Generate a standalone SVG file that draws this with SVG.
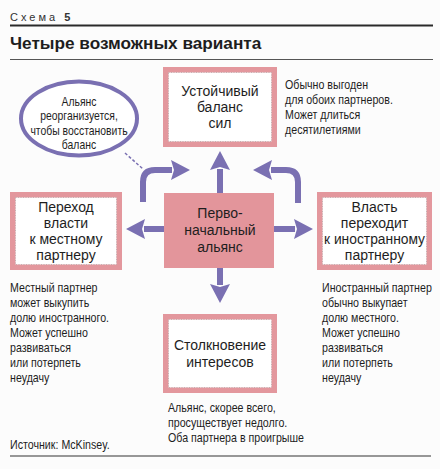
<svg xmlns="http://www.w3.org/2000/svg" width="440" height="469" viewBox="0 0 440 469">
<style>
.bg{fill:#fcfcfc}
.frame{fill:#e3979d}
.inner{fill:#ffffff;stroke:#b9a9ab;stroke-width:0.8;stroke-dasharray:1 1.5}
.center{fill:#e3959b}
.bt{font-family:"Liberation Sans",Arial,sans-serif;font-size:14px;fill:#1e1e1e;text-anchor:middle}
.nt{font-family:"Liberation Sans",Arial,sans-serif;font-size:13px;fill:#1e1e1e}
.mid{text-anchor:middle}
.arr{fill:none;stroke:#7a70b2;stroke-width:6}
.ell{fill:#ffffff;stroke:#7a70b2;stroke-width:4}
</style>
<defs>
<marker id="ah" markerUnits="userSpaceOnUse" markerWidth="19" markerHeight="20" viewBox="0 0 19 20" refX="1" refY="10" orient="auto" overflow="visible">
<path d="M0,0 L19,10 L0,20 L3,10 Z" fill="#7a70b2"/>
</marker>
</defs>
<rect class="bg" x="0" y="0" width="440" height="469"/>
<g id="header">
<text x="10" y="21" font-family="Liberation Sans,Arial,sans-serif" font-size="11" letter-spacing="3" fill="#333">Схема <tspan font-weight="bold" letter-spacing="0">5</tspan></text>
<line x1="10" y1="25.5" x2="433" y2="25.5" stroke="#2a2a2a" stroke-width="2"/>
<text x="10" y="49" font-family="Liberation Sans,Arial,sans-serif" font-size="17.2" font-weight="bold" fill="#1e1e1e">Четыре возможных варианта</text>
<line x1="10" y1="59.5" x2="433" y2="59.5" stroke="#555" stroke-width="1"/>
</g>
<g id="connectors">
<line x1="125" y1="153" x2="143" y2="169" stroke="#7a70b2" stroke-width="1.5" stroke-dasharray="3 2"/>
<path class="arr" d="M220,193 V169" marker-end="url(#ah)"/>
<path class="arr" d="M164,229 H144" marker-end="url(#ah)"/>
<path class="arr" d="M274,229 H295" marker-end="url(#ah)"/>
<path class="arr" d="M220,268 V285" marker-end="url(#ah)"/>
<path class="arr" d="M143,202 V182 Q143,170 155,170 H172" marker-end="url(#ah)"/>
<path class="arr" d="M298,203 V182 Q298,170 286,170 H271" marker-end="url(#ah)"/>
</g>
<g id="node-top">
<rect class="frame" x="163" y="67" width="114" height="80"/>
<rect class="inner" x="168.5" y="72.5" width="103" height="69"/>
<text class="bt" x="220" y="96">Устойчивый</text>
<text class="bt" x="220" y="112">баланс</text>
<text class="bt" x="220" y="128">сил</text>
</g>
<g id="note-top" transform="translate(285,0) scale(0.82,1)">
<text class="nt" x="0" y="89">Обычно выгоден</text>
<text class="nt" x="0" y="104">для обоих партнеров.</text>
<text class="nt" x="0" y="119">Может длиться</text>
<text class="nt" x="0" y="134">десятилетиями</text>
</g>
<g id="node-ellipse">
<ellipse class="ell" cx="79" cy="118.5" rx="58" ry="37"/>
<g transform="translate(79,0) scale(0.8,1)">
<text class="nt mid" x="0" y="106">Альянс</text>
<text class="nt mid" x="0" y="120.5">реорганизуется,</text>
<text class="nt mid" x="0" y="135">чтобы восстановить</text>
<text class="nt mid" x="0" y="149.5">баланс</text>
</g>
</g>
<g id="node-center">
<rect class="center" x="164" y="193" width="110" height="75"/>
<text class="bt" x="220" y="218">Перво-</text>
<text class="bt" x="220" y="235">начальный</text>
<text class="bt" x="220" y="252">альянс</text>
</g>
<g id="node-left">
<rect class="frame" x="10" y="192" width="112" height="78"/>
<rect class="inner" x="15.5" y="197.5" width="101" height="67"/>
<text class="bt" x="66" y="212">Переход</text>
<text class="bt" x="66" y="228">власти</text>
<text class="bt" x="66" y="244">к местному</text>
<text class="bt" x="66" y="260">партнеру</text>
</g>
<g id="node-right">
<rect class="frame" x="317" y="192" width="115" height="78"/>
<rect class="inner" x="322.5" y="197.5" width="104" height="67"/>
<text class="bt" x="374.5" y="212">Власть</text>
<text class="bt" x="374.5" y="228">переходит</text>
<text class="bt" x="374.5" y="244" textLength="101" lengthAdjust="spacingAndGlyphs">к иностранному</text>
<text class="bt" x="374.5" y="260">партнеру</text>
</g>
<g id="node-bottom">
<rect class="frame" x="163" y="314" width="114" height="79"/>
<rect class="inner" x="168.5" y="319.5" width="103" height="68"/>
<text class="bt" x="220" y="350">Столкновение</text>
<text class="bt" x="220" y="367">интересов</text>
</g>
<g id="note-left" transform="translate(10,0) scale(0.82,1)">
<text class="nt" x="0" y="292">Местный партнер</text>
<text class="nt" x="0" y="307">может выкупить</text>
<text class="nt" x="0" y="322">долю иностранного.</text>
<text class="nt" x="0" y="337">Может успешно</text>
<text class="nt" x="0" y="352">развиваться</text>
<text class="nt" x="0" y="367">или потерпеть</text>
<text class="nt" x="0" y="382">неудачу</text>
</g>
<g id="note-right" transform="translate(322,0) scale(0.82,1)">
<text class="nt" x="0" y="292">Иностранный партнер</text>
<text class="nt" x="0" y="307">обычно выкупает</text>
<text class="nt" x="0" y="322">долю местного.</text>
<text class="nt" x="0" y="337">Может успешно</text>
<text class="nt" x="0" y="352">развиваться</text>
<text class="nt" x="0" y="367">или потерпеть</text>
<text class="nt" x="0" y="382">неудачу</text>
</g>
<g id="note-bottom" transform="translate(168,0) scale(0.82,1)">
<text class="nt" x="0" y="412">Альянс, скорее всего,</text>
<text class="nt" x="0" y="427">просуществует недолго.</text>
<text class="nt" x="0" y="442">Оба партнера в проигрыше</text>
</g>
<g id="footer">
<g transform="translate(10,0) scale(0.82,1)">
<text class="nt" x="0" y="449">Источник: McKinsey.</text>
</g>
<line x1="10" y1="456" x2="431" y2="456" stroke="#333" stroke-width="1"/>
</g>
</svg>
